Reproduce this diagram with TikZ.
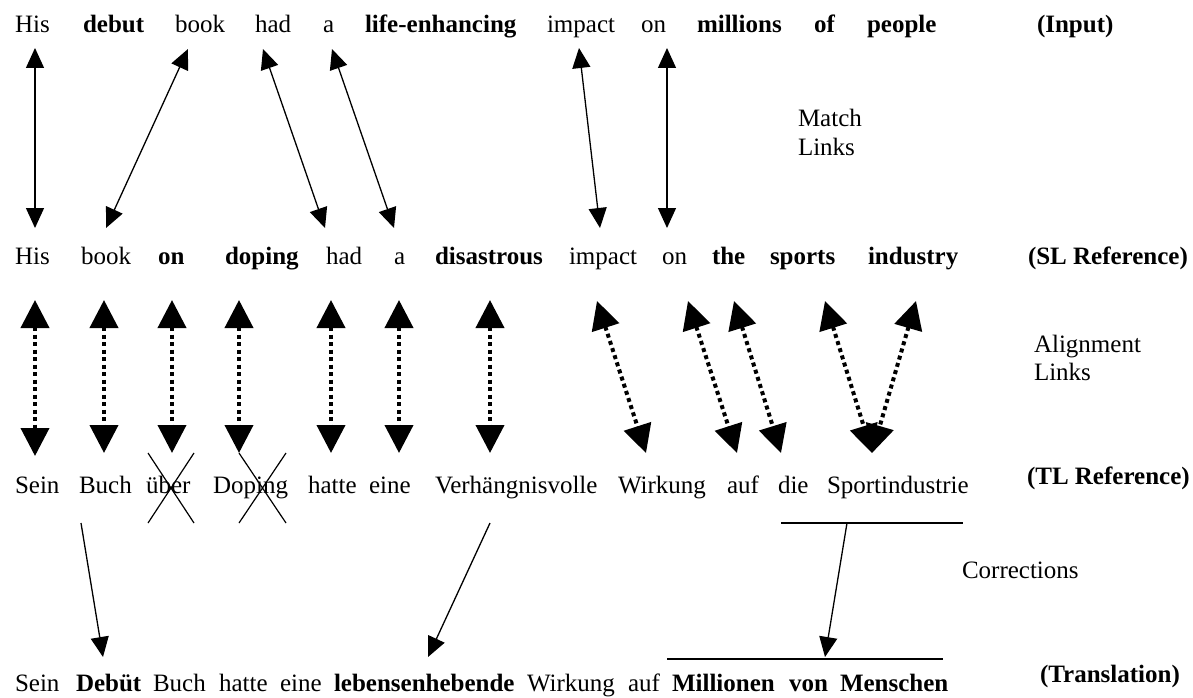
\documentclass[tikz,border=0pt]{standalone}
\usepackage{fontspec}
\setmainfont{Liberation Serif}
\usetikzlibrary{arrows.meta}
\begin{document}
\begin{tikzpicture}[x=1pt,y=-1pt,
  every node/.style={inner sep=0pt, outer sep=0pt, anchor=base west, font=\fontsize{25}{30}\selectfont},
  wb/.style={font=\fontsize{25}{30}\selectfont\bfseries},
  matchlink/.style={line width=1.3pt, {Triangle[length=20pt,width=18pt]}-{Triangle[length=20pt,width=18pt]}},
  alignlink/.style={line width=4pt, dash pattern=on 4pt off 3.5pt, {Triangle[length=28pt,width=28pt]}-{Triangle[length=28pt,width=28pt]}},
  corrlink/.style={line width=1.3pt, -{Triangle[length=20pt,width=18pt]}},
  plainline/.style={line width=1.5pt},
  crossline/.style={line width=1.2pt}
]
\useasboundingbox (0,0) rectangle (1193,698);
\fill[white] (0,0) rectangle (1193,698);

% Row 1: Input
\node (i1) at (15,33) {His};
\node[wb] (i2) at (83,33) {debut};
\node (i3) at (175,33) {book};
\node (i4) at (255,33) {had};
\node (i5) at (323,33) {a};
\node[wb] (i6) at (365,33) {life-enhancing};
\node (i7) at (547,33) {impact};
\node (i8) at (641,33) {on};
\node[wb] (i9) at (697,33) {millions};
\node[wb] (i10) at (814,33) {of};
\node[wb] (i11) at (867,33) {people};
\node[wb] (i12) at (1037,33) {(Input)};

% Row 2: SL Reference
\node (s1) at (15,264) {His};
\node (s2) at (81,264) {book};
\node[wb] (s3) at (158,264) {on};
\node[wb] (s4) at (225,264) {doping};
\node (s5) at (326,264) {had};
\node (s6) at (394,264) {a};
\node[wb] (s7) at (435,264) {disastrous};
\node (s8) at (569,264) {impact};
\node (s9) at (662,264) {on};
\node[wb] (s10) at (712,264) {the};
\node[wb] (s11) at (770,264) {sports};
\node[wb] (s12) at (868,264) {industry};
\node[wb] (s13) at (1028,264) {(SL Reference)};

% Row 3: TL Reference
\node (t1) at (15,493) {Sein};
\node (t2) at (79,493) {Buch};
\node (t3) at (146,493) {über};
\node (t4) at (213,493) {Doping};
\node (t5) at (308,493) {hatte};
\node (t6) at (369,493) {eine};
\node (t7) at (435,493) {Verhängnisvolle};
\node (t8) at (618,493) {Wirkung};
\node (t9) at (727,493) {auf};
\node (t10) at (778,493) {die};
\node (t11) at (827,493) {Sportindustrie};
\node[wb] (t12) at (1027,484) {(TL Reference)};

% Row 4: Translation
\node (r1) at (15,691) {Sein};
\node[wb] (r2) at (76,691) {Debüt};
\node (r3) at (153,691) {Buch};
\node (r4) at (219,691) {hatte};
\node (r5) at (280,691) {eine};
\node[wb] (r6) at (334,691) {lebensenhebende};
\node (r7) at (527,691) {Wirkung};
\node (r8) at (628,691) {auf};
\node[wb] (r9) at (672,691) {Millionen};
\node[wb] (r10) at (789,691) {von};
\node[wb] (r11) at (840,691) {Menschen};
\node[wb] (r12) at (1040,682) {(Translation)};

% Side labels
\node (lm1) at (798,126) {Match};
\node (lm2) at (798,155) {Links};
\node (la1) at (1034,352) {Alignment};
\node (la2) at (1034,380) {Links};
\node (lc) at (962,578) {Corrections};

% Match link end points
\coordinate (ma1) at (35,48);   \coordinate (mb1) at (35,228);
\coordinate (ma2) at (188,49);  \coordinate (mb2) at (106,228);
\coordinate (ma3) at (263,49);  \coordinate (mb3) at (325,228);
\coordinate (ma4) at (332,49);  \coordinate (mb4) at (394,228);
\coordinate (ma5) at (579,48);  \coordinate (mb5) at (600,228);
\coordinate (ma6) at (667,48);  \coordinate (mb6) at (667,228);
\foreach \k in {1,...,6} {\draw[matchlink] (ma\k) -- (mb\k);}

% Alignment link end points
\coordinate (aa1) at (35,300);  \coordinate (ab1) at (35,456);
\coordinate (aa2) at (104,300); \coordinate (ab2) at (104,453);
\coordinate (aa3) at (172,300); \coordinate (ab3) at (172,453);
\coordinate (aa4) at (239,300); \coordinate (ab4) at (239,453);
\coordinate (aa5) at (331,300); \coordinate (ab5) at (331,453);
\coordinate (aa6) at (399,300); \coordinate (ab6) at (399,453);
\coordinate (aa7) at (490,300); \coordinate (ab7) at (490,453);
\coordinate (aa8) at (597,301); \coordinate (ab8) at (646,453);
\coordinate (aa9) at (688,301); \coordinate (ab9) at (737,453);
\coordinate (aa10) at (734,301); \coordinate (ab10) at (781,453);
\coordinate (aa11) at (825,301); \coordinate (ab11) at (872,453);
\coordinate (aa12) at (916,301); \coordinate (ab12) at (872,453);
\foreach \k in {1,...,12} {\draw[alignlink] (aa\k) -- (ab\k);}

% Crosses over deleted words
\coordinate (x1a) at (148,453); \coordinate (x1b) at (194,523);
\coordinate (x1c) at (194,453); \coordinate (x1d) at (148,523);
\coordinate (x2a) at (239,453); \coordinate (x2b) at (286,523);
\coordinate (x2c) at (286,453); \coordinate (x2d) at (239,523);
\draw[crossline] (x1a) -- (x1b) (x1c) -- (x1d);
\draw[crossline] (x2a) -- (x2b) (x2c) -- (x2d);

% Corrections
\coordinate (ua) at (781,523); \coordinate (ub) at (963,523);
\coordinate (la) at (667,659); \coordinate (lb) at (943,659);
\draw[plainline] (ua) -- (ub);
\draw[plainline] (la) -- (lb);
\coordinate (ca1) at (81,523);  \coordinate (cb1) at (103,657);
\coordinate (ca2) at (490,523); \coordinate (cb2) at (428,657);
\coordinate (ca3) at (847,523); \coordinate (cb3) at (825,657);
\foreach \k in {1,2,3} {\draw[corrlink] (ca\k) -- (cb\k);}
\end{tikzpicture}
\end{document}
